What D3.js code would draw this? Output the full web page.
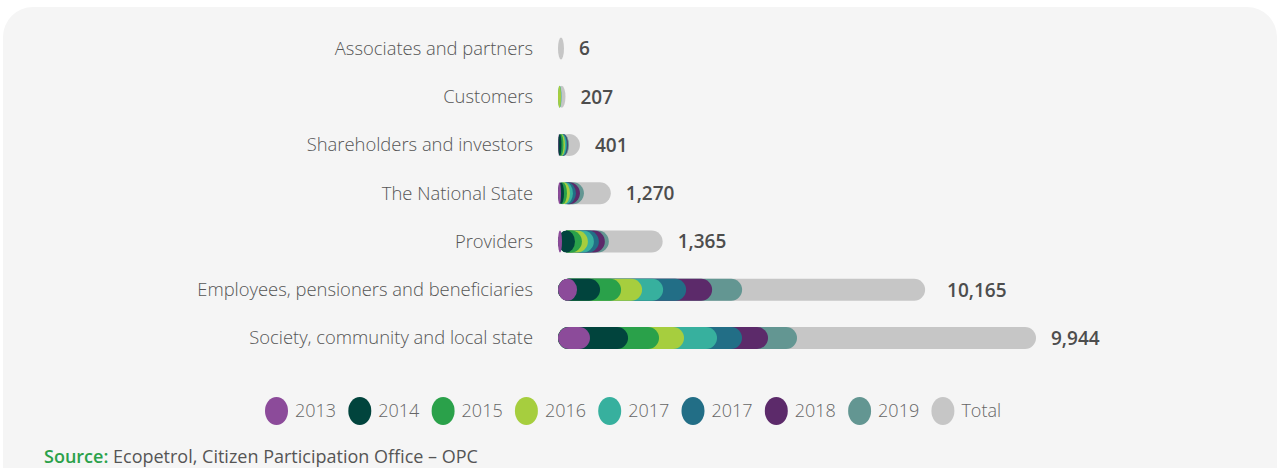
<!DOCTYPE html>
<html>
<head>
<meta charset="utf-8">
<script src="https://cdn.jsdelivr.net/npm/d3@7"></script>
<style>
  html, body { margin: 0; padding: 0; background: #ffffff; }
  svg { display: block; font-family: 'Open Sans', sans-serif; }
  .catLabel { font-size: 18.4px; font-weight: 300; fill: #555555; }
  .valLabel { font-size: 19px; font-weight: 600; fill: #4d4d4d; }
  .legText { font-size: 18px; font-weight: 300; fill: #666666; }
  .source { font-size: 18px; font-weight: 400; fill: #555555; }
</style>
</head>
<body>
<svg id="chart"></svg>
<script>
// Data
var categories = [
    'Associates and partners',
    'Customers',
    'Shareholders and investors',
    'The National State',
    'Providers',
    'Employees, pensioners and beneficiaries',
    'Society, community and local state'
];
var totalsShown = [6, 207, 401, 1270, 1365, 10165, 9944];

var seriesNames = ['2013', '2014', '2015', '2016', '2017', '2017', '2018', '2019', 'Total'];
var seriesKeys = ['y2013', 'y2014', 'y2015', 'y2016', 'y2017a', 'y2017b', 'y2018', 'y2019', 'total'];
var seriesColors = ['#8c4b9a', '#01443d', '#2aa14a', '#a6ce3e', '#37b09e', '#226e86', '#5c2a6a', '#639692', '#c6c6c6'];

// segment sizes per row (same order as categories)
var v2013  = [0,   0,  28, 165,  220, 1050, 1765];
var v2014  = [0,   0, 165, 165,  715, 1270, 2100];
var v2015  = [0,   0, 110, 165,  385, 1160, 1710];
var v2016  = [0, 165,  83, 165,  330, 1160, 1380];
var v2017a = [0,  28,  83, 165,  330, 1160, 1820];
var v2017b = [0,   0,  55, 165,  275, 1270, 1380];
var v2018  = [0,   0,  28, 220,  330, 1435, 1435];
var v2019  = [0,   0,  55, 220,  220, 1655, 1600];
var vTotal = [330, 220, 605, 1485, 2970, 10100, 13190];

var width = 1280;
var height = 468;

var svg = d3.select('#chart')
    .attr('width', width)
    .attr('height', height);

// Panel background
svg.append('rect')
    .attr('x', 3)
    .attr('y', 7)
    .attr('width', 1274)
    .attr('height', 520)
    .attr('rx', 30)
    .attr('fill', '#f5f5f5');

var rows = categories.map((c, i) => ({
    name: c,
    shown: totalsShown[i],
    y2013: v2013[i], y2014: v2014[i], y2015: v2015[i], y2016: v2016[i],
    y2017a: v2017a[i], y2017b: v2017b[i], y2018: v2018[i], y2019: v2019[i],
    total: vTotal[i]
}));

var stacked = d3.stack().keys(seriesKeys)(rows);

var barLeft = 558;
var barH = 22;

var xScale = d3.scaleLinear()
    .domain([0, d3.max(stacked[stacked.length - 1], (d) => d[1])])
    .range([0, 478]);

// row centres
var yScale = d3.scalePoint()
    .domain(categories)
    .range([48.5, 338]);

var chartGroup = svg.append('g')
    .attr('transform', `translate(${barLeft}, 0)`);

// Category labels
chartGroup.selectAll('.catLabel')
    .data(rows)
    .enter()
    .append('text')
    .attr('class', 'catLabel')
    .attr('x', -25)
    .attr('y', (d) => yScale(d.name))
    .attr('dy', '0.35em')
    .attr('text-anchor', 'end')
    .text((d) => d.name);

// Overlapping pill segments: draw the outer (Total) first, 2013 last
var layers = stacked.slice().reverse();
layers.forEach((layer) => {
    var color = seriesColors[seriesKeys.indexOf(layer.key)];
    chartGroup.selectAll('.seg-' + layer.key)
        .data(layer.filter((d) => d[1] - d[0] > 0))
        .enter()
        .append('rect')
        .attr('class', 'seg-' + layer.key)
        .attr('x', 0)
        .attr('y', (d) => yScale(d.data.name) - barH / 2)
        .attr('width', (d) => xScale(d[1]))
        .attr('height', barH)
        .attr('rx', barH / 2)
        .attr('ry', barH / 2)
        .attr('fill', color);
});

// Value labels
var fmt = d3.format(',');
chartGroup.selectAll('.valLabel')
    .data(stacked[stacked.length - 1])
    .enter()
    .append('text')
    .attr('class', 'valLabel')
    .attr('x', (d) => xScale(d[1]) + (d.data.shown > 10000 ? 22 : 15))
    .attr('y', (d) => yScale(d.data.name))
    .attr('dy', '0.36em')
    .text((d) => fmt(d.data.shown));

// Legend
var legend = svg.append('g')
    .attr('transform', 'translate(265, 411)');

var legItems = legend.selectAll('.legItem')
    .data(seriesNames)
    .enter()
    .append('g')
    .attr('class', 'legItem')
    .attr('transform', (d, i) => `translate(${i * 83.3}, 0)`);

legItems.append('rect')
    .attr('x', 0)
    .attr('y', -14)
    .attr('width', 23)
    .attr('height', 28)
    .attr('rx', 11.5)
    .attr('ry', 14)
    .attr('fill', (d, i) => seriesColors[i]);

legItems.append('text')
    .attr('class', 'legText')
    .attr('x', 30)
    .attr('y', 0)
    .attr('dy', '0.35em')
    .text((d) => d);

// Source
var source = svg.append('text')
    .attr('class', 'source')
    .attr('x', 44)
    .attr('y', 463);
source.append('tspan')
    .attr('fill', '#2aa14a')
    .attr('font-weight', 600)
    .text('Source:');
source.append('tspan')
    .text(' Ecopetrol, Citizen Participation Office \u2013 OPC');
</script>
</body>
</html>
